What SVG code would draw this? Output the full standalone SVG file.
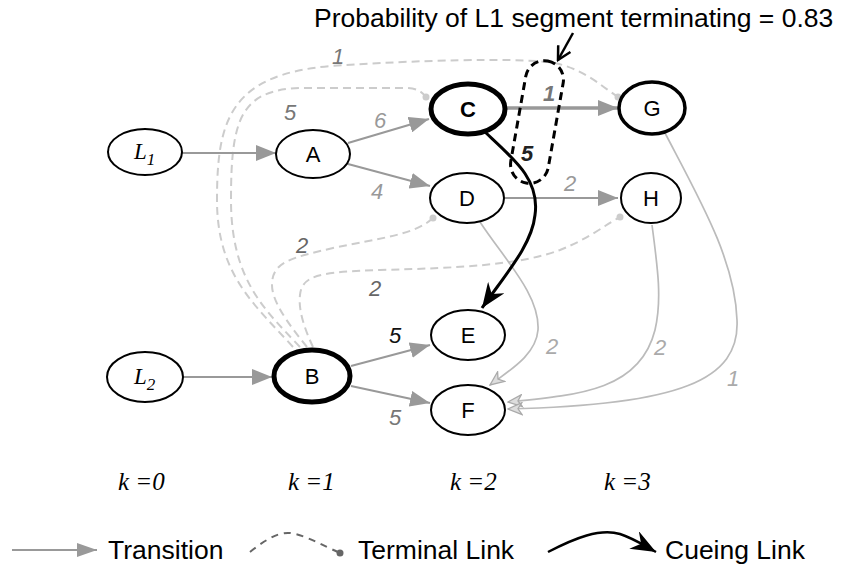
<svg xmlns="http://www.w3.org/2000/svg" width="845" height="568" viewBox="0 0 845 568">
  <style>
    .node ellipse { fill: #fff; stroke: #000; stroke-width: 2; }
    .node.heavy ellipse { stroke-width: 5; }
    .node.mid ellipse { stroke-width: 3.5; }
    .nl { font-family: "Liberation Sans", Arial, sans-serif; font-size: 22px; text-anchor: middle; fill: #000; }
    .nl.b { font-weight: bold; }
    .lv { font-family: "Liberation Serif", "Times New Roman", serif; font-style: italic; font-size: 23px; fill: #000; }
    .tr { stroke: #999; stroke-width: 2; fill: none; marker-end: url(#arrT); }
    .tr.thick { stroke-width: 3.5; }
    .cv { stroke: #bbb; stroke-width: 1.7; fill: none; marker-end: url(#arrO); }
    .term { stroke: #ccc; stroke-width: 2; fill: none; stroke-dasharray: 8 5; }
    .dot { fill: #ccc; }
    .cue { stroke: #000; stroke-width: 3; fill: none; marker-end: url(#arrC); }
    .wt { font-family: "Liberation Sans", Arial, sans-serif; font-style: italic; font-size: 22px; text-anchor: middle; }
    .big { font-family: "Liberation Sans", Arial, sans-serif; font-size: 26.5px; fill: #000; }
    .kk { font-family: "Liberation Serif", "Times New Roman", serif; font-style: italic; font-size: 25px; fill: #000; }
  </style>
  <defs>
    <marker id="arrT" markerUnits="userSpaceOnUse" markerWidth="20" markerHeight="16" viewBox="0 0 20 16" refX="20" refY="8" orient="auto">
      <path d="M0,0 L20,8 L0,16 z" fill="#999"/>
    </marker>
    <marker id="arrO" markerUnits="userSpaceOnUse" markerWidth="16" markerHeight="14" viewBox="0 0 16 14" refX="15" refY="7" orient="auto">
      <path d="M1,1 L15,7 L1,13 L5,7 z" fill="#ddd" stroke="#aaa" stroke-width="1.3" stroke-linejoin="miter"/>
    </marker>
    <marker id="arrC" markerUnits="userSpaceOnUse" markerWidth="26" markerHeight="20" viewBox="0 0 26 20" refX="25" refY="10" orient="auto">
      <path d="M0,0 L25,10 L0,20 L8,10 z" fill="#000"/>
    </marker>
    <marker id="arrV" markerUnits="userSpaceOnUse" markerWidth="16" markerHeight="16" viewBox="0 0 16 16" refX="14" refY="8" orient="auto">
      <path d="M1,1 L14,8 L1,15" fill="none" stroke="#000" stroke-width="2.5"/>
    </marker>
    <marker id="arrL" markerUnits="userSpaceOnUse" markerWidth="20" markerHeight="16" viewBox="0 0 20 16" refX="20" refY="8" orient="auto">
      <path d="M0,1 L20,8 L0,15 z" fill="#999"/>
    </marker>
  </defs>

  <!-- heading and pointer -->
  <text class="big" x="314" y="27">Probability of L1 segment terminating = 0.83</text>
  <path d="M573,33 L558,60" stroke="#000" stroke-width="2.5" fill="none" marker-end="url(#arrV)"/>

  <!-- connectors -->
  <g id="connectors">
    <!-- terminal links from B -->
    <path class="term" d="M293,347 C255,305 217,275 217,200 C217,120 230,75 330,66 C420,60 510,58 548,62 C580,66 600,85 618,97"/>
    <path class="term" d="M300,347 C265,310 231,280 231,200 C231,120 240,90 300,88 L405,88 C418,88 422,92 426,97"/>
    <path class="term" d="M307,347 C285,320 272,300 272,285 C272,262 290,258 333,248 C380,238 415,235 433,218"/>
    <path class="term" d="M313,347 C305,330 298,310 300,295 C302,275 320,272 380,270 C460,268 520,265 560,250 C590,238 605,225 620,217"/>
    <circle class="dot" cx="426" cy="97" r="3.5"/>
    <circle class="dot" cx="618" cy="97" r="3.5"/>
    <circle class="dot" cx="433" cy="218" r="3.5"/>
    <circle class="dot" cx="620" cy="217" r="3.5"/>

    <!-- transitions -->
    <path class="tr" d="M182,153 L276,153"/>
    <path class="tr" d="M348,143 L429,119"/>
    <path class="tr" d="M348,164 L430,186"/>
    <path class="tr thick" d="M507,108 L618,108"/>
    <path class="tr" d="M505,198 L618,198"/>
    <path class="tr" d="M183,377 L272,377"/>
    <path class="tr" d="M351,366 L430,345"/>
    <path class="tr" d="M351,386 L430,403"/>

    <!-- curved transitions into F -->
    <path class="cv" d="M480,222 C505,260 540,295 538,330 C536,355 510,370 490,385"/>
    <path class="cv" d="M652,225 C658,270 662,300 655,330 C640,390 580,395 508,402"/>
    <path class="cv" d="M665,133 C700,200 735,260 737,320 C740,380 680,405 508,409"/>

    <!-- cueing link C to E -->
    <path class="cue" d="M485,132 C515,160 540,180 535,215 C532,245 505,275 482,308"/>

    <!-- grouping outline of the L1 terminal segment -->
    <rect x="518" y="60" width="38" height="124" rx="19" ry="19" transform="rotate(10 537 122)" fill="none" stroke="#000" stroke-width="3" stroke-dasharray="8 5"/>

    <!-- weights -->
    <text class="wt" x="338" y="64" fill="#777" font-size="20">1</text>
    <text class="wt" x="290" y="120" fill="#777">5</text>
    <text class="wt" x="380" y="128" fill="#999">6</text>
    <text class="wt" x="377" y="199" fill="#999">4</text>
    <text class="wt" x="549" y="101" fill="#777" font-weight="bold">1</text>
    <text class="wt" x="527" y="161" fill="#222" font-weight="bold">5</text>
    <text class="wt" x="570" y="191" fill="#999">2</text>
    <text class="wt" x="302" y="253" fill="#666">2</text>
    <text class="wt" x="375" y="296" fill="#666">2</text>
    <text class="wt" x="395" y="343" fill="#111">5</text>
    <text class="wt" x="395" y="425" fill="#777">5</text>
    <text class="wt" x="552" y="354" fill="#aaa">2</text>
    <text class="wt" x="660" y="355" fill="#aaa">2</text>
    <text class="wt" x="733" y="386" fill="#aaa" font-size="20">1</text>
  </g>

  <!-- nodes -->
  <g id="L1" class="node">
    <ellipse cx="145" cy="152" rx="37" ry="23"/>
    <text class="lv" x="134" y="159">L<tspan font-size="17" dy="6">1</tspan></text>
  </g>
  <g id="L2" class="node">
    <ellipse cx="145" cy="377" rx="38" ry="25"/>
    <text class="lv" x="134" y="384">L<tspan font-size="17" dy="6">2</tspan></text>
  </g>
  <g id="A" class="node">
    <ellipse cx="313" cy="154" rx="37" ry="24"/>
    <text class="nl" x="313" y="162">A</text>
  </g>
  <g id="B" class="node heavy">
    <ellipse cx="312" cy="376" rx="38" ry="26"/>
    <text class="nl" x="312" y="384">B</text>
  </g>
  <g id="C" class="node heavy">
    <ellipse cx="468" cy="109" rx="37" ry="25"/>
    <text class="nl b" x="468" y="117">C</text>
  </g>
  <g id="D" class="node">
    <ellipse cx="467" cy="198" rx="37" ry="25"/>
    <text class="nl" x="467" y="206">D</text>
  </g>
  <g id="E" class="node">
    <ellipse cx="468" cy="335" rx="37" ry="25"/>
    <text class="nl" x="468" y="343">E</text>
  </g>
  <g id="F" class="node">
    <ellipse cx="468" cy="410" rx="37" ry="25"/>
    <text class="nl" x="468" y="418">F</text>
  </g>
  <g id="G" class="node mid">
    <ellipse cx="652" cy="108" rx="33" ry="26"/>
    <text class="nl" x="652" y="116">G</text>
  </g>
  <g id="H" class="node">
    <ellipse cx="651" cy="198" rx="30" ry="25"/>
    <text class="nl" x="651" y="206">H</text>
  </g>

  <!-- stage labels -->
  <text class="kk" x="118" y="490">k =0</text>
  <text class="kk" x="288" y="490">k =1</text>
  <text class="kk" x="450" y="490">k =2</text>
  <text class="kk" x="604" y="490">k =3</text>

  <!-- legend -->
  <g id="legend">
    <path d="M12,550 L97,550" stroke="#999" stroke-width="2" fill="none" marker-end="url(#arrL)"/>
    <text class="big" x="108" y="559" font-size="26">Transition</text>
    <path d="M250,552 C265,540 278,532 290,533 C305,535 322,545 340,553" stroke="#666" stroke-width="2" fill="none" stroke-dasharray="7 6"/>
    <circle cx="340" cy="553" r="3.5" fill="#666"/>
    <text class="big" x="358" y="559" font-size="26">Terminal Link</text>
    <path d="M548,552 C575,538 600,528 620,534 C635,539 645,546 656,552" stroke="#000" stroke-width="2.5" fill="none" marker-end="url(#arrC)"/>
    <text class="big" x="665" y="559" font-size="26">Cueing Link</text>
  </g>
</svg>
